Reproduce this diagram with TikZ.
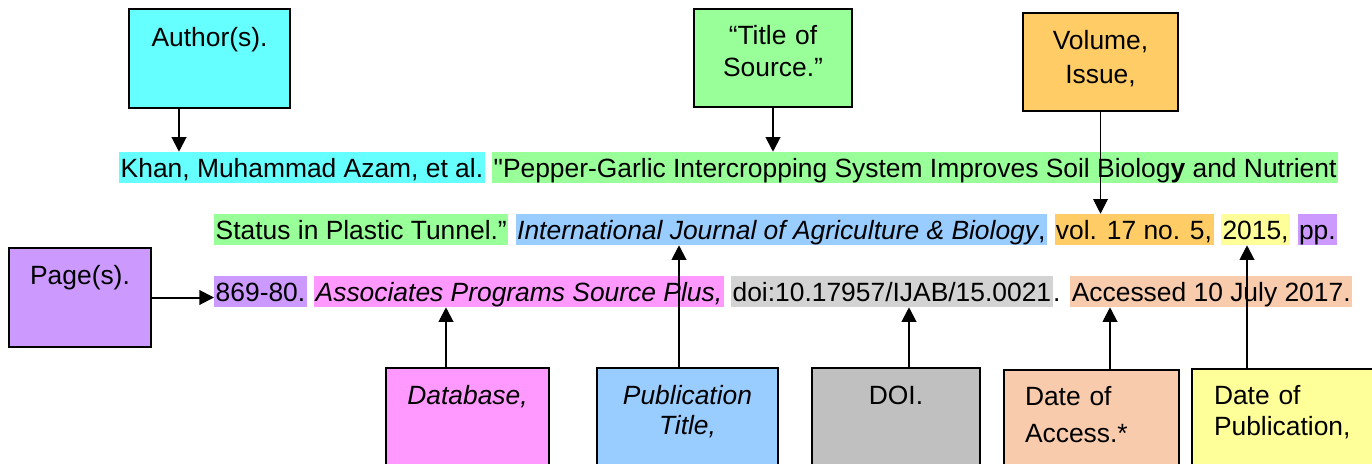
\documentclass[tikz,border=0pt]{standalone}
\usepackage{fontspec}
\setmainfont{Liberation Sans}[Ligatures=TeXOff]
\definecolor{AuthCyan}{HTML}{66FFFF}
\definecolor{TitleGreen}{HTML}{99FF99}
\definecolor{PubBlue}{HTML}{99CCFF}
\definecolor{VolOrange}{HTML}{FFCC66}
\definecolor{DateYellow}{HTML}{FFFF99}
\definecolor{PagePurple}{HTML}{CC99FF}
\definecolor{DbPink}{HTML}{FF99FF}
\definecolor{DoiGray}{HTML}{C0C0C0}
\definecolor{DoiLight}{HTML}{D3D3D3}
\definecolor{AccPeach}{HTML}{F8CBAD}
\usetikzlibrary{arrows.meta, positioning, calc}

\begin{document}
\begin{tikzpicture}[
        x=0.75pt, y=-0.75pt,
        node distance=5.25pt,
        font=\fontsize{19.8pt}{24pt}\selectfont,
        hl/.style={inner xsep=1.1pt, inner ysep=0pt, text height=18.75pt, text depth=4.5pt},
        box/.style={rectangle, draw=black, line width=1.5pt, inner sep=0pt, align=center, anchor=north west},
        arrow/.style={-{Triangle[length=11pt, width=11pt]}, line width=1.5pt}
    ]
    \useasboundingbox (0,0) rectangle (1372,464);

    % Citation, line 1
    \node[hl, fill=AuthCyan, anchor=base west] (txtauthor) at (119,177) {Khan, Muhammad Azam, et al.};
    \node[hl, fill=TitleGreen, right=of txtauthor] (txttitle) {"Pepper-Garlic Intercropping System Improves Soil Biolog\textbf{y} and Nutrient};

    % Citation, line 2
    \node[hl, fill=TitleGreen, anchor=base west] (txtstatus) at (214,239) {Status in Plastic Tunnel.”};
    \node[hl, fill=PubBlue, right=of txtstatus] (txtjournal) {\textit{International Journal of Agriculture \& Biology},};
    \node[hl, fill=VolOrange, right=of txtjournal] (txtvolume) {vol. 17 no. 5,};
    \node[hl, fill=DateYellow, right=of txtvolume] (txtyear) {2015,};
    \node[hl, fill=PagePurple, right=of txtyear] (txtpp) {pp.};

    % Citation, line 3
    \node[hl, fill=PagePurple, anchor=base west] (txtpages) at (214,301) {869-80.};
    \node[hl, fill=DbPink, right=of txtpages] (txtdb) {\textit{Associates Programs Source Plus,}};
    \node[hl, fill=DoiLight, right=of txtdb] (txtdoi) {doi:10.17957/IJAB/15.0021};
    \node[hl, inner xsep=0pt, right=0pt of txtdoi] (txtdot) {.};
    \node[hl, fill=AccPeach, right=7pt of txtdot] (txtaccess) {Accessed 10 July 2017.};

    % Boxes above
    \node[box, fill=AuthCyan, text width=120.75pt, text height=27.75pt, text depth=46.5pt] (author) at (128,8) {Author(s).};
    \node[box, fill=TitleGreen, text width=118.5pt, text height=27pt, text depth=46.5pt] (title) at (693,8) {“Title of\\Source.”};
    \node[box, fill=VolOrange, text width=116.25pt, text height=27pt, text depth=46.5pt,
          font=\fontsize{19.8pt}{25.5pt}\selectfont] (volume) at (1022,12) {Volume,\\Issue,};
    \node[box, fill=PagePurple, text width=106.5pt, text height=27pt, text depth=47.25pt] (pages) at (8,247) {Page(s).};

    % Boxes below
    \node[box, fill=DbPink, text width=122.25pt, text height=27pt, text depth=54pt] (database) at (385,367) {\textit{Database,}};
    \node[box, fill=PubBlue, text width=135.75pt, text height=27pt, text depth=54pt,
          font=\fontsize{19.8pt}{22.5pt}\selectfont\itshape] (pubtitle) at (596,367) {Publication\\Title,};
    \node[box, fill=DoiGray, text width=126pt, text height=27pt, text depth=54pt] (doi) at (811,367) {DOI.};
    \node[box, fill=AccPeach, align=left, inner xsep=15.75pt, text width=99.75pt, text height=26.25pt, text depth=53.25pt,
          font=\fontsize{19.8pt}{27.75pt}\selectfont] (access) at (1003,369) {Date of\\Access.*};
    \node[box, fill=DateYellow, align=left, inner xsep=16.5pt, text width=108.75pt, text height=26.25pt, text depth=54pt,
          font=\fontsize{19.8pt}{23.25pt}\selectfont] (pubdate) at (1191,368) {Date of\\Publication,};

    % Arrows
    \coordinate (authfoot) at ($(author.south west)+(51,0)$);
    \coordinate (dbtop) at ($(database.north west)+(61,0)$);
    \coordinate (pubtop) at ($(pubtitle.north west)+(83,0)$);
    \coordinate (doitop) at ($(doi.north west)+(98,0)$);
    \coordinate (acctop) at ($(access.north west)+(107,0)$);
    \coordinate (datetop) at ($(pubdate.north west)+(56,0)$);
    \draw[arrow] (authfoot) -- (authfoot |- txtauthor.north);
    \draw[arrow] (title.south) -- (title.south |- txttitle.north);
    \draw[arrow, line width=0.75pt] (volume.south) -- (volume.south |- txtvolume.north);
    \draw[arrow] (pages.east) -- (pages.east -| txtpages.west);
    \draw[arrow] (dbtop) -- (dbtop |- txtdb.south);
    \draw[arrow] (pubtop) -- (pubtop |- txtjournal.south);
    \draw[arrow] (doitop) -- (doitop |- txtdoi.south);
    \draw[arrow] (acctop) -- (acctop |- txtaccess.south);
    \draw[arrow] (datetop) -- (datetop |- txtyear.south);
\end{tikzpicture}
\end{document}
